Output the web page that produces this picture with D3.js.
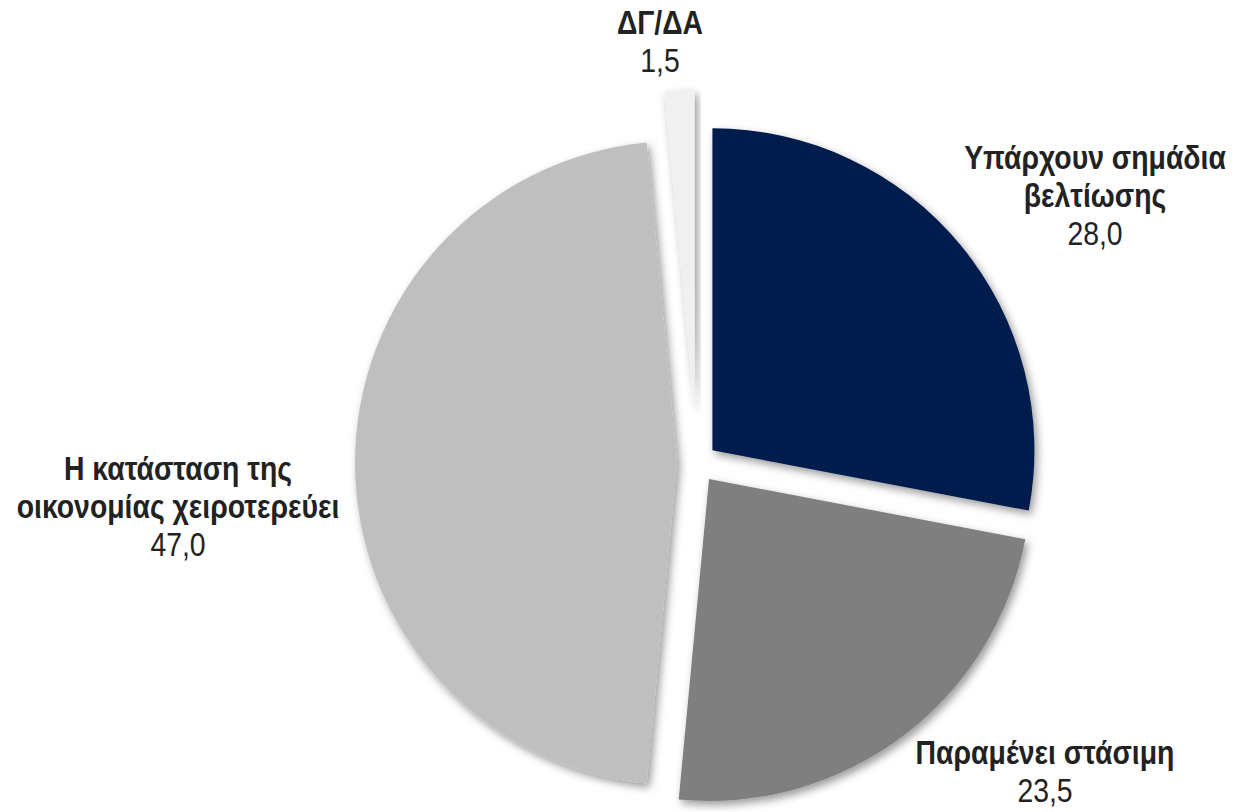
<!DOCTYPE html>
<html>
<head>
<meta charset="utf-8">
<script src="https://cdn.jsdelivr.net/npm/d3@7"></script>
<style>
  html, body { margin: 0; padding: 0; background: #fff; }
  #chart text { font-family: "Liberation Sans", Arial, sans-serif; fill: #222; }
</style>
</head>
<body>
<div id="chart"></div>
<script>
(function () {

    const categories = ["Υπάρχουν σημάδια βελτίωσης", "Παραμένει στάσιμη", "Η κατάσταση της οικονομίας χειροτερεύει", "ΔΓ/ΔΑ"];
    const values = [28.0, 23.5, 47.0, 1.5];
    const labelLines = [["Υπάρχουν σημάδια", "βελτίωσης"], ["Παραμένει στάσιμη"], ["Η κατάσταση της", "οικονομίας χειροτερεύει"], ["ΔΓ/ΔΑ"]];

    // layout
    const width = 1234, height = 812;
    const cx = 697, cy = 463, radius = 322;
    const colors = ["#021a4e", "#7f7f7f", "#bfbfbf", "#f0f0f0"];
    const explode = [20, 20, 20, 51];
    const labelPos = [[1095, 157], [1045, 752], [178, 468], [660, 22]];
    const lineGap = 38, fontSize = 33, narrow = 0.86;

    const fmt = v => d3.format(".1f")(v).replace(".", ",");

    const svg = d3.select("#chart")
        .append("svg")
        .attr("width", width)
        .attr("height", height);

    const filter = svg.append("defs")
        .append("filter")
        .attr("id", "shadow")
        .attr("x", "-20%").attr("y", "-20%")
        .attr("width", "140%").attr("height", "140%");
    filter.append("feDropShadow")
        .attr("dx", 3).attr("dy", 4)
        .attr("stdDeviation", 4)
        .attr("flood-color", "#000")
        .attr("flood-opacity", 0.4);

    const pie = d3.pie().sort(null).value(d => d);
    const arc = d3.arc().innerRadius(0).outerRadius(radius);

    const arcs = pie(values);

    svg.append("g")
        .attr("transform", `translate(${cx},${cy})`)
        .selectAll("path")
        .data(arcs)
        .enter()
        .append("path")
        .attr("d", arc)
        .attr("fill", (d, i) => colors[i])
        .attr("filter", "url(#shadow)")
        .attr("transform", (d, i) => {
            const a = (d.startAngle + d.endAngle) / 2;
            return `translate(${Math.sin(a) * explode[i]},${-Math.cos(a) * explode[i]})`;
        });

    // labels, squeezed horizontally to look like a narrow face
    const labels = svg.append("g")
        .selectAll("text")
        .data(arcs)
        .enter()
        .append("text")
        .attr("text-anchor", "middle")
        .attr("font-size", fontSize)
        .attr("transform", (d, i) => `translate(${labelPos[i][0]},${labelPos[i][1]})scale(${narrow},1)`);

    labels.each(function (d, i) {
        const t = d3.select(this);
        labelLines[i].forEach((line, j) => {
            t.append("tspan")
                .attr("x", 0)
                .attr("y", j * lineGap)
                .attr("dy", "0.35em")
                .attr("font-weight", "bold")
                .text(line);
        });
        t.append("tspan")
            .attr("x", 0)
            .attr("y", labelLines[i].length * lineGap)
            .attr("dy", "0.35em")
            .text(fmt(d.data));
    });

})()
</script>
</body>
</html>
